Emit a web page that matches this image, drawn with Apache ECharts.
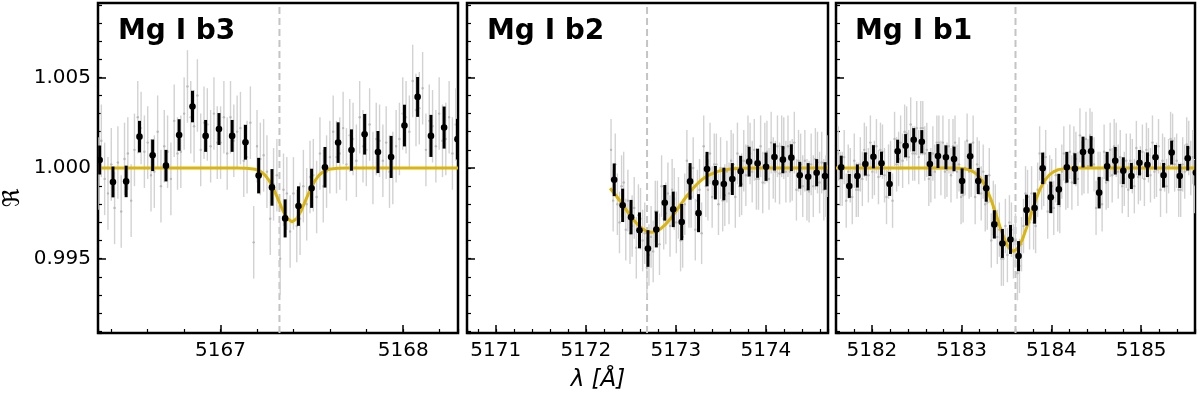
<!DOCTYPE html>
<html>
<head>
<meta charset="utf-8">
<title>Mg I b triplet</title>
<script src="https://cdn.jsdelivr.net/npm/echarts@6/dist/echarts.min.js"></script>
<style>
html, body { margin: 0; padding: 0; background: #fff; }
#main { width: 1200px; height: 396px; }
</style>
</head>
<body>
<div id="main"></div>
<script>
// ---- data ----
var yMin = 0.9909, yMax = 1.0091;
var panelNames = ['Mg I b3', 'Mg I b2', 'Mg I b1'];
var xRanges = [[5166.33, 5168.30], [5170.68, 5174.69], [5181.60, 5185.60]];
var lineCenters = [5167.323, 5172.68, 5183.60];

// binned points (black)
var b3X = [5166.339, 5166.412, 5166.484, 5166.557, 5166.629, 5166.702, 5166.774, 5166.847, 5166.919, 5166.992,
           5167.064, 5167.137, 5167.209, 5167.282, 5167.354, 5167.427, 5167.499, 5167.572, 5167.644, 5167.717,
           5167.789, 5167.862, 5167.934, 5168.007, 5168.079, 5168.152, 5168.224, 5168.297];
var b3Y = [1.00044, 0.99923, 0.99926, 1.00173, 1.00070, 1.00013, 1.00182, 1.00339, 1.00177, 1.00215,
           1.00177, 1.00142, 0.99958, 0.99893, 0.99722, 0.99790, 0.99888, 1.00004, 1.00140, 1.00099,
           1.00186, 1.00088, 1.00061, 1.00234, 1.00392, 1.00177, 1.00223, 1.00159];
var b3Err = [0.00080, 0.00085, 0.00087, 0.00087, 0.00087, 0.00087, 0.00087, 0.00087, 0.00088, 0.00088,
             0.00088, 0.00096, 0.00098, 0.00101, 0.00105, 0.00109, 0.00108, 0.00112, 0.00112, 0.00114,
             0.00112, 0.00116, 0.00116, 0.00115, 0.00110, 0.00116, 0.00116, 0.00112];

var b2X = [5172.315, 5172.409, 5172.502, 5172.596, 5172.690, 5172.783, 5172.877, 5172.971, 5173.065, 5173.158,
           5173.252, 5173.346, 5173.439, 5173.533, 5173.627, 5173.720, 5173.814, 5173.908, 5174.002, 5174.095,
           5174.189, 5174.283, 5174.376, 5174.470, 5174.564, 5174.657];
var b2Y = [0.99935, 0.99794, 0.99729, 0.99656, 0.99556, 0.99661, 0.99808, 0.99772, 0.99702, 0.99926,
           0.99751, 0.99994, 0.99919, 0.99912, 0.99939, 0.99982, 1.00035, 1.00026, 1.00007, 1.00061,
           1.00046, 1.00057, 0.99960, 0.99952, 0.99974, 0.99956];
var b2Err = [0.00090, 0.00092, 0.00095, 0.00099, 0.00101, 0.00099, 0.00098, 0.00098, 0.00100, 0.00101,
             0.00105, 0.00095, 0.00092, 0.00090, 0.00088, 0.00085, 0.00082, 0.00080, 0.00078, 0.00075,
             0.00075, 0.00074, 0.00074, 0.00075, 0.00075, 0.00076];

var b1X = [5181.658, 5181.748, 5181.838, 5181.927, 5182.017, 5182.107, 5182.197, 5182.287, 5182.376, 5182.466,
           5182.556, 5182.646, 5182.736, 5182.825, 5182.915, 5183.005, 5183.095, 5183.185, 5183.274, 5183.364,
           5183.454, 5183.544, 5183.634, 5183.723, 5183.813, 5183.903, 5183.993, 5184.083, 5184.172, 5184.262,
           5184.352, 5184.442, 5184.532, 5184.621, 5184.711, 5184.801, 5184.891, 5184.981, 5185.070, 5185.160,
           5185.250, 5185.340, 5185.430, 5185.519, 5185.609];
var b1Y = [1.00004, 0.99901, 0.99956, 1.00022, 1.00062, 1.00026, 0.99912, 1.00092, 1.00123, 1.00156,
           1.00145, 1.00022, 1.00066, 1.00059, 1.00050, 0.99928, 1.00065, 0.99928, 0.99888, 0.99689,
           0.99584, 0.99606, 0.99514, 0.99768, 0.99779, 0.99998, 0.99838, 0.99882, 1.00004, 0.99996,
           1.00088, 1.00092, 0.99864, 1.00009, 1.00040, 0.99985, 0.99956, 1.00029, 1.00018, 1.00059,
           0.99960, 1.00085, 0.99956, 1.00054, 0.99974];
var b1Err = [0.00064, 0.00066, 0.00064, 0.00064, 0.00064, 0.00064, 0.00066, 0.00064, 0.00064, 0.00064,
             0.00064, 0.00066, 0.00066, 0.00066, 0.00068, 0.00070, 0.00070, 0.00072, 0.00074, 0.00078,
             0.00080, 0.00080, 0.00083, 0.00085, 0.00086, 0.00087, 0.00087, 0.00086, 0.00085, 0.00085,
             0.00085, 0.00084, 0.00087, 0.00080, 0.00076, 0.00074, 0.00072, 0.00070, 0.00068, 0.00068,
             0.00068, 0.00066, 0.00066, 0.00068, 0.00070];

// unbinned points (grey), deviation from 1 in units of 1e-4, on a regular wavelength grid
var b3GrayStart = 5166.312, b3GrayStep = 0.018125, b3GrayErr = 0.0020;
var b3Gray = [12, -3, 15, -6, -14, 2, -22, 3, -24, 5, 8, -18, 10, 28, 22, 9, 14, -4, -2, 20,
              -10, 12, 9, -6, 26, 8, 9, 30, 45, 28, 23, 40, 10, 25, 24, 12, 30, 14, 14, 28,
              8, 28, 15, 20, 22, 4, 6, 25, -41, 12, 5, 7, -2, -28, -9, -4, -50, -12, -14, -35,
              -14, -32, -28, -10, -20, -5, -4, -16, 8, -10, -2, 6, 20, 6, 8, 22, 2, 18, 16, 4,
              28, 12, 10, 24, 0, 16, 15, 4, 14, -2, 0, 12, 16, 30, 28, 20, 48, 32, 33, 44,
              10, 26, 23, 12, 30, 15, 16, 28, 8, 24, 22, 10];

var b2GrayStart = 5172.280, b2GrayStep = 0.0234, b2GrayErr = 0.0017;
var b2Gray = [10, -18, 2, -20, -30, -10, -8, -34, -18, -36, -32, -22, -44, -26, -28, -40, -36, -55, -48, -38,
              -46, -24, -24, -42, -10, -28, -25, -14, -32, -12, -17, -30, -22, -40, -38, -20, 4, -16, -16, 0,
              -34, -18, -12, -36, 12, -10, -12, 8, -16, 2, 2, -20, 0, -18, -15, -2, -14, 4, 2, -16,
              8, -10, -9, 4, -4, 12, 8, -2, 10, -6, -6, 12, -8, 8, 9, -6, 14, 0, -2, 12,
              -3, 12, 11, -2, 12, -2, -1, 14, -12, 4, 2, -10, 4, -12, -13, 2, -10, 5, 3, -8,
              3, -12, -10, 1];

var b1GrayStart = 5181.624, b1GrayStep = 0.02245, b1GrayErr = 0.0015;
var b1Gray = [8, -6, -6, 6, -18, -2, -4, -16, 4, -12, -12, 2, -6, 10, 8, -4, 14, -2, 0, 12,
              -5, 10, 9, -4, -16, -2, 0, -18, 16, 2, 5, 14, 4, 20, 19, 6, 24, 8, 8, 22,
              6, 22, 22, 8, 10, -6, -4, 8, -2, 14, 14, 0, 14, -2, -1, 12, -4, 12, 14, -2,
              2, -16, -15, 0, 15, -2, -1, 14, -16, 2, 0, -14, -2, -20, -19, -4, -40, -22, -24, -38,
              -34, -50, -50, -32, -48, -30, -34, -46, -40, -58, -54, -42, -32, -14, -16, -30, -14, -30, -32, -12,
              8, -8, -6, 6, -24, -8, -10, -22, -4, -20, -21, -2, 8, -8, -7, 9, -8, 8, 5, -6,
              18, 0, 1, 16, 1, 18, 16, 2, -22, -6, -6, -20, 9, -8, -7, 10, -4, 12, 10, -2,
              6, -10, -6, 4, -12, 4, 1, -10, 11, -5, -3, 9, -6, 10, 7, -4, 14, -2, -1, 12,
              -12, 4, 2, -10, 1, 16, 15, 2, 4, -12, -12, 2, -2, 13, 11, 0, 6, -10, -10, 4];

// gaussian fits (gold), sampled off the curve
var b3FitX = [5166.33, 5167.092, 5167.142, 5167.192, 5167.217, 5167.242, 5167.267, 5167.292, 5167.317, 5167.342,
              5167.367, 5167.392, 5167.417, 5167.442, 5167.467, 5167.492, 5167.517, 5167.542, 5167.567, 5167.592,
              5167.642, 5167.692, 5168.30];
var b3FitY = [1.0, 1.0, 0.99999, 0.99993, 0.99983, 0.99963, 0.99930, 0.99882, 0.99824, 0.99764,
              0.99720, 0.99703, 0.99720, 0.99764, 0.99824, 0.99882, 0.99930, 0.99963, 0.99983, 0.99993,
              0.99999, 1.0, 1.0];

var b2FitX = [5172.27, 5172.33, 5172.38, 5172.43, 5172.48, 5172.53, 5172.58, 5172.63, 5172.68, 5172.73,
              5172.78, 5172.83, 5172.88, 5172.93, 5172.98, 5173.03, 5173.08, 5173.13, 5173.18, 5173.23,
              5173.28, 5173.33, 5173.38, 5173.43, 5173.48, 5173.53, 5173.63, 5173.73, 5173.93, 5174.69];
var b2FitY = [0.99888, 0.99851, 0.99818, 0.99783, 0.99747, 0.99714, 0.99686, 0.99664, 0.99650, 0.99645,
              0.99650, 0.99664, 0.99686, 0.99714, 0.99747, 0.99783, 0.99818, 0.99851, 0.99882, 0.99909,
              0.99932, 0.99950, 0.99964, 0.99975, 0.99983, 0.99989, 0.99996, 0.99998, 1.0, 1.0];

var b1FitX = [5181.60, 5182.877, 5182.977, 5183.027, 5183.077, 5183.127, 5183.177, 5183.227, 5183.277, 5183.327,
              5183.377, 5183.427, 5183.477, 5183.527, 5183.577, 5183.627, 5183.677, 5183.727, 5183.777, 5183.827,
              5183.877, 5183.927, 5183.977, 5184.027, 5184.077, 5184.177, 5184.277, 5185.60];
var b1FitY = [1.0, 1.0, 0.99998, 0.99996, 0.99991, 0.99980, 0.99962, 0.99932, 0.99887, 0.99826,
              0.99753, 0.99676, 0.99606, 0.99558, 0.99540, 0.99558, 0.99606, 0.99676, 0.99753, 0.99826,
              0.99887, 0.99932, 0.99962, 0.99980, 0.99991, 0.99998, 1.0, 1.0];

// ---- build ----
var panels = [
    {bx: b3X, by: b3Y, be: b3Err, gs: b3GrayStart, gd: b3GrayStep, gv: b3Gray, ge: b3GrayErr, fx: b3FitX, fy: b3FitY},
    {bx: b2X, by: b2Y, be: b2Err, gs: b2GrayStart, gd: b2GrayStep, gv: b2Gray, ge: b2GrayErr, fx: b2FitX, fy: b2FitY},
    {bx: b1X, by: b1Y, be: b1Err, gs: b1GrayStart, gd: b1GrayStep, gv: b1Gray, ge: b1GrayErr, fx: b1FitX, fy: b1FitY}
];
var gridBoxes = [
    {left: 98, top: 3, width: 360, height: 330},
    {left: 467, top: 3, width: 361, height: 330},
    {left: 836, top: 3, width: 359, height: 330}
];
var titleLeft = [118, 487, 855];
var FONT = 'DejaVu Sans';
var GOLD = '#dbb40c';

function errRender(barColor, barWidth, dotColor, r) {
    return function (params, api) {
        var x = api.value(0), y = api.value(1), e = api.value(2);
        var p = api.coord([x, y]);
        var lo = api.coord([x, y - e]);
        var hi = api.coord([x, y + e]);
        return {
            type: 'group',
            children: [
                {type: 'line', shape: {x1: p[0], y1: lo[1], x2: p[0], y2: hi[1]},
                 style: {stroke: barColor, lineWidth: barWidth}},
                {type: 'circle', shape: {cx: p[0], cy: p[1], r: r}, style: {fill: dotColor}}
            ]
        };
    };
}

var grids = [], xAxes = [], yAxes = [], series = [], graphics = [];

panels.forEach(function (pn, i) {
    var g = gridBoxes[i];
    grids.push({left: g.left, top: g.top, width: g.width, height: g.height, show: true,
                borderColor: '#000', borderWidth: 2.5, backgroundColor: 'transparent',
                outerBoundsMode: 'none'});

    var major = i === 0 ? 2 : 4;
    // major x ticks + labels
    xAxes.push({
        gridIndex: i, type: 'value', position: 'bottom', min: xRanges[i][0], max: xRanges[i][1],
        splitNumber: major, splitLine: {show: false},
        axisLine: {show: false, onZero: false},
        axisTick: {inside: true, length: 8, lineStyle: {color: '#000', width: 1.5}},
        axisLabel: {margin: 8, color: '#000', fontFamily: FONT, fontSize: 20,
                    showMinLabel: false, showMaxLabel: false,
                    formatter: function (v) { return String(Math.round(v)); }}
    });
    // minor x ticks
    xAxes.push({
        gridIndex: i, type: 'value', position: 'bottom', min: xRanges[i][0], max: xRanges[i][1],
        splitNumber: major * 5, splitLine: {show: false},
        axisLine: {show: false, onZero: false},
        axisTick: {inside: true, length: 4, lineStyle: {color: '#000', width: 1.2}},
        axisLabel: {show: false}
    });
    yAxes.push({
        gridIndex: i, type: 'value', position: 'left', min: yMin, max: yMax,
        splitNumber: 4, splitLine: {show: false},
        axisLine: {show: false, onZero: false},
        axisTick: {inside: true, length: 8, lineStyle: {color: '#000', width: 1.5}},
        axisLabel: {show: i === 0, margin: 7, color: '#000', fontFamily: FONT, fontSize: 20,
                    showMinLabel: false, showMaxLabel: false,
                    formatter: function (v) { return v.toFixed(3); }}
    });
    yAxes.push({
        gridIndex: i, type: 'value', position: 'left', min: yMin, max: yMax,
        splitNumber: 18, splitLine: {show: false},
        axisLine: {show: false, onZero: false},
        axisTick: {inside: true, length: 4, lineStyle: {color: '#000', width: 1.2}},
        axisLabel: {show: false}
    });

    var xi = 2 * i, yi = 2 * i;

    // line centre
    series.push({
        type: 'line', xAxisIndex: xi, yAxisIndex: yi, silent: true, z: 1,
        symbol: 'none', data: [[lineCenters[i], yMin], [lineCenters[i], yMax]],
        lineStyle: {color: '#c4c4c4', width: 2, type: [7, 4]}
    });

    var grey = pn.gv.map(function (v, k) {
        return [pn.gs + k * pn.gd, 1 + v * 1e-4, pn.ge];
    });
    series.push({
        type: 'custom', xAxisIndex: xi, yAxisIndex: yi, z: 2, clip: true, silent: true,
        encode: {x: 0, y: 1}, data: grey,
        renderItem: errRender('#d2d2d2', 1.4, '#b8b8b8', 1.2)
    });

    series.push({
        type: 'line', xAxisIndex: xi, yAxisIndex: yi, z: 3, silent: true,
        symbol: 'none', smooth: false,
        data: pn.fx.map(function (x, k) { return [x, pn.fy[k]]; }),
        lineStyle: {color: GOLD, width: 3, join: 'round'}
    });

    var black = pn.bx.map(function (x, k) { return [x, pn.by[k], pn.be[k]]; });
    series.push({
        type: 'custom', xAxisIndex: xi, yAxisIndex: yi, z: 4, clip: true, silent: true,
        encode: {x: 0, y: 1}, data: black,
        renderItem: errRender('#000', 3, '#000', 3.3)
    });

    graphics.push({
        type: 'text', x: titleLeft[i], y: 32, z: 10,
        style: {text: panelNames[i], fontFamily: FONT, fontSize: 28, fontWeight: 'bold',
                fill: '#000', verticalAlign: 'middle'}
    });
});

// shared axis names
graphics.push({
    type: 'text', x: 598, y: 380,
    style: {text: 'λ [Å]', fontFamily: FONT, fontSize: 23, fontStyle: 'italic',
            fill: '#000', align: 'center', verticalAlign: 'middle'}
});
graphics.push({
    type: 'text', x: 13, y: 198, rotation: Math.PI / 2,
    style: {text: 'ℜ', fontFamily: FONT, fontSize: 23, fill: '#000',
            align: 'center', verticalAlign: 'middle'}
});

var myChart = echarts.init(document.getElementById('main'));
var option = {
    animation: false,
    backgroundColor: '#fff',
    grid: grids,
    xAxis: xAxes,
    yAxis: yAxes,
    series: series,
    graphic: graphics
};
myChart.setOption(option);
</script>
</body>
</html>
